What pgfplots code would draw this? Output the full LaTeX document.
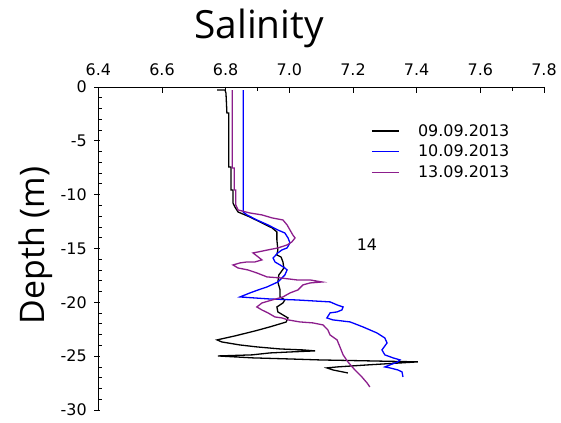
\documentclass[border=0pt]{standalone}
\usepackage{pgfplots}
\pgfplotsset{compat=1.18}
\usepackage{fontspec}
\setmainfont{DejaVu Sans}
\newfontfamily\opensans{Open Sans}
\newfontfamily\dejavu{DejaVu Sans}
\definecolor{salpurple}{RGB}{140,30,140}
\definecolor{salblue}{RGB}{0,0,255}

\begin{document}
\begin{tikzpicture}
\begin{axis}[
  scale only axis, width=445.7bp, height=323bp,
  xmin=6.4, xmax=7.8, ymin=-30, ymax=0,
  clip=false,
  axis x line=top, axis y line=left,
  axis line style={-, line width=0.8bp},
  xtick={6.4,6.6,6.8,7.0,7.2,7.4,7.6,7.8},
  xticklabels={6.4,6.6,6.8,7.0,7.2,7.4,7.6,7.8},
  minor xtick={6.9,7.7},
  ytick={0,-5,-10,-15,-20,-25,-30},
  yticklabels={0,-5,-10,-15,-20,-25,-30},
  minor y tick num=4,
  tick align=inside,
  major tick length=6bp, minor tick length=4bp,
  tick style={black, line width=0.8bp},
  major y tick style={xshift=-4bp},
  xticklabel style={font=\dejavu\fontsize{16}{16}\selectfont, yshift=8bp},
  yticklabel style={font=\dejavu\fontsize{16}{16}\selectfont, xshift=-8bp},
  legend style={draw=none, fill=none, at={(0.612,0.89)}, anchor=north west,
    font=\dejavu\fontsize{16}{19}\selectfont, row sep=4.5bp, inner sep=0pt,
    nodes={inner sep=1.5bp},
    /tikz/every odd column/.append style={column sep=17bp}},
  legend cell align=left,
  legend image code/.code={\draw[#1] (0bp,0bp) -- (27bp,0bp);},
]
\addplot[black, line width=1.3bp] coordinates {
(6.773,-0.28)(6.798,-0.28)(6.801,-0.56)(6.804,-2.41)(6.810,-2.41)(6.810,-7.43)
(6.817,-7.43)(6.817,-9.56)(6.823,-9.56)(6.823,-10.77)(6.829,-11.14)(6.839,-11.61)
(6.876,-12.07)(6.914,-12.63)(6.946,-13.09)(6.961,-13.46)(6.961,-14.21)(6.964,-15.13)
(6.961,-15.60)(6.974,-15.79)(6.980,-16.25)(6.983,-16.81)(6.974,-17.18)(6.967,-17.46)
(6.964,-18.11)(6.971,-18.85)(6.971,-19.50)(6.986,-19.78)(6.980,-20.06)(6.961,-20.43)
(6.964,-20.89)(6.980,-21.17)(6.996,-21.45)(6.990,-21.83)(6.939,-22.28)(6.892,-22.66)
(6.829,-23.12)(6.773,-23.49)(6.788,-23.68)(6.845,-23.96)(6.898,-24.14)(6.971,-24.33)
(7.043,-24.42)(7.081,-24.51)(7.002,-24.61)(6.939,-24.70)(6.883,-24.88)(6.776,-24.98)
(6.886,-25.16)(7.002,-25.26)(7.096,-25.35)(7.253,-25.44)(7.404,-25.53)(7.348,-25.63)
(7.247,-25.81)(7.150,-26.00)(7.118,-26.09)(7.137,-26.28)(7.184,-26.56)
};
\addlegendentry{09.09.2013}
\addplot[salblue, line width=1.3bp] coordinates {
(6.855,-0.28)(6.855,-11.61)(6.867,-11.88)(6.898,-12.35)(6.933,-12.81)(6.964,-13.28)
(6.986,-13.56)(6.996,-14.02)(7.002,-14.48)(6.993,-14.95)(6.977,-15.13)(6.964,-15.41)
(6.949,-15.88)(6.955,-16.25)(6.971,-16.53)(6.986,-16.81)(6.993,-16.99)(6.986,-17.46)
(6.964,-18.11)(6.930,-18.57)(6.902,-18.85)(6.876,-19.13)(6.845,-19.50)(6.939,-19.69)
(7.024,-19.78)(7.128,-19.96)(7.150,-20.24)(7.169,-20.43)(7.165,-20.71)(7.150,-20.89)
(7.128,-20.98)(7.118,-21.45)(7.137,-21.63)(7.191,-21.82)(7.231,-22.28)(7.275,-22.84)
(7.300,-23.31)(7.307,-23.77)(7.291,-24.42)(7.300,-24.88)(7.326,-25.16)(7.348,-25.35)
(7.341,-25.53)(7.316,-25.81)(7.300,-26.00)(7.316,-26.09)(7.341,-26.28)(7.354,-26.46)
(7.357,-26.93)
};
\addlegendentry{10.09.2013}
\addplot[salpurple, line width=1.3bp] coordinates {
(6.821,-0.28)(6.821,-7.52)(6.827,-7.52)(6.827,-9.56)(6.832,-9.56)(6.832,-10.96)
(6.839,-11.42)(6.876,-11.70)(6.914,-11.88)(6.946,-12.16)(6.980,-12.35)(6.993,-12.81)
(7.002,-13.28)(7.011,-13.74)(7.018,-14.02)(7.008,-14.39)(6.993,-14.67)(6.964,-14.95)
(6.933,-15.13)(6.902,-15.32)(6.886,-15.41)(6.902,-15.78)(6.914,-16.06)(6.892,-16.25)
(6.867,-16.25)(6.845,-16.34)(6.823,-16.53)(6.839,-16.81)(6.870,-16.99)(6.898,-17.27)
(6.930,-17.64)(6.971,-17.73)(7.024,-17.92)(7.065,-17.92)(7.103,-18.11)(7.065,-18.20)
(7.043,-18.38)(7.027,-18.85)(7.002,-19.13)(6.980,-19.50)(6.946,-19.78)(6.914,-20.06)
(6.898,-20.43)(6.914,-20.71)(6.933,-20.98)(6.955,-21.36)(6.977,-21.45)(6.996,-21.63)
(7.033,-21.82)(7.074,-21.91)(7.106,-22.10)(7.121,-22.56)(7.128,-23.03)(7.150,-23.49)
(7.159,-24.14)(7.169,-24.88)(7.184,-25.53)(7.206,-26.28)(7.228,-26.93)(7.244,-27.48)
(7.253,-27.86)
};
\addlegendentry{13.09.2013}
\node[font=\dejavu\fontsize{16}{16}\selectfont] at (axis cs:7.244,-14.67) {14};
\node[anchor=base, font=\opensans\fontsize{39}{39}\selectfont] at ([yshift=48bp]rel axis cs:0.3606,1) {Salinity};
\node[rotate=90, anchor=base, font=\opensans\fontsize{34}{34}\selectfont] at ([xshift=-53.3bp]rel axis cs:0,0.51) {Depth (m)};
\coordinate (ll) at (rel axis cs:0,0);
\coordinate (ur) at (rel axis cs:1,1);
\end{axis}
\pgfresetboundingbox
\path ([shift={(-98.3bp,-13bp)}]ll) rectangle ([shift={(17bp,87bp)}]ur);
\end{tikzpicture}
\end{document}
